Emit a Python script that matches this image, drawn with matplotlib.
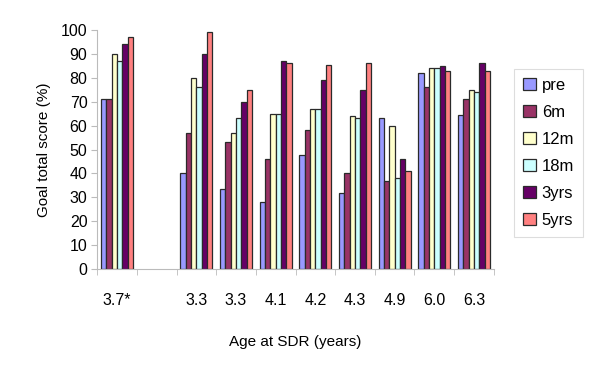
import matplotlib
matplotlib.use('Agg')
from matplotlib import pyplot as plt
import numpy as np

plt.rcParams['font.family'] = ['Liberation Sans', 'DejaVu Sans']

# ages at SDR, second slot is an empty category in the original
ages = ['3.7*', '', '3.3', '3.3', '4.1', '4.2', '4.3', '4.9', '6.0', '6.3']
series = ['pre', '6m', '12m', '18m', '3yrs', '5yrs']

pre   = [71, np.nan, 40, 33.5, 28, 47.5, 32, 63, 82, 64.5]
m6    = [71, np.nan, 57, 53, 46, 58, 40, 37, 76, 71]
m12   = [90, np.nan, 80, 57, 65, 67, 64, 60, 84, 75]
m18   = [87, np.nan, 76, 63, 65, 67, 63, 38, 84, 74]
yrs3  = [94, np.nan, 90, 70, 87, 79, 75, 46, 85, 86]
yrs5  = [97, np.nan, 99, 75, 86, 85.5, 86, 41, 83, 83]

colors = ['#9999FF', '#993366', '#FFFFCC', '#CCFFFF', '#660066', '#FF8080']
values = [pre, m6, m12, m18, yrs3, yrs5]

fig = plt.figure(figsize=(6, 3.79), dpi=100)
ax = fig.add_axes([0.162, 0.290, 0.661, 0.631])

x = np.arange(len(ages))
w = 0.8 / len(series)
for i, (name, vals) in enumerate(zip(series, values)):
    ax.bar(x - 0.4 + w * (i + 0.5), vals, width=w, color=colors[i],
           edgecolor='#2a2a2a', linewidth=0.9, label=name)

ax.set_xlim(-0.5, len(ages) - 0.5)
ax.set_ylim(0, 100)
ax.set_yticks(range(0, 101, 10))
ax.set_xticks(x)
ax.set_xticklabels(ages)
ax.set_xticks(np.arange(-0.5, len(ages), 1), minor=True)
ax.tick_params(axis='x', which='major', length=0, pad=17, labelsize=11.5)
ax.tick_params(axis='x', which='minor', length=4, color='#BBBBBB')
ax.tick_params(axis='y', length=4, color='#BBBBBB', labelsize=11.5, pad=3)

for s in ['top', 'right']:
    ax.spines[s].set_visible(False)
for s in ['left', 'bottom']:
    ax.spines[s].set_color('#BBBBBB')

ax.set_ylabel('Goal total score (%)', fontsize=11, labelpad=7)
ax.set_xlabel('Age at SDR (years)', fontsize=11, labelpad=20)

leg = fig.legend(loc='upper left', bbox_to_anchor=(0.843, 0.84), fontsize=12,
                 handlelength=0.75, handleheight=0.75, handletextpad=0.35,
                 labelspacing=0.72, borderpad=0.55, fancybox=False,
                 edgecolor='#DDDDDD', framealpha=1)
leg.get_frame().set_linewidth(0.8)

fig.savefig('out.png', dpi=100)
